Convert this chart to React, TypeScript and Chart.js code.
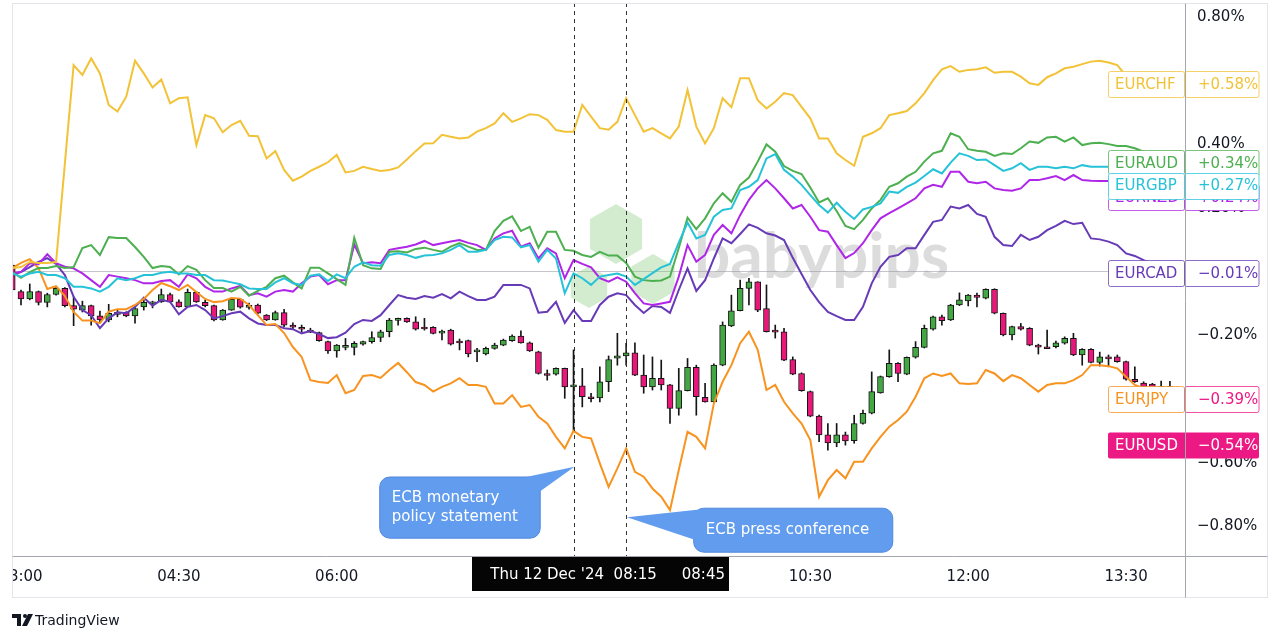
import React, { useEffect, useRef } from "react";
import { Chart, registerables } from "chart.js";

Chart.register(...registerables);

// 5-minute bars, index 0 = 03:00 (bar -1 is the partly hidden first bar)
const FIRST_BAR = -1;
const TIME_TICK_BARS = [0, 18, 36, 54, 72, 90, 108, 126];
const TIME_TICK_LABELS = ["03:00", "04:30", "06:00", "07:30", "09:00", "10:30", "12:00", "13:30"];
const PCT_TICKS = [0.8, 0.6, 0.4, 0.2, 0, -0.2, -0.4, -0.6, -0.8];

const EURCHF = [0.011, 0.014, 0.030, 0.027, 0.027, 0.030, 0.338, 0.648, 0.617, 0.669,
  0.622, 0.523, 0.502, 0.549, 0.662, 0.622, 0.578, 0.603, 0.528, 0.544,
  0.547, 0.397, 0.491, 0.481, 0.437, 0.460, 0.473, 0.426, 0.425, 0.355,
  0.378, 0.319, 0.285, 0.298, 0.316, 0.329, 0.343, 0.366, 0.311, 0.316,
  0.329, 0.322, 0.316, 0.319, 0.327, 0.352, 0.378, 0.402, 0.403, 0.429,
  0.423, 0.418, 0.421, 0.439, 0.450, 0.465, 0.497, 0.470, 0.481, 0.494,
  0.491, 0.476, 0.444, 0.439, 0.439, 0.523, 0.486, 0.450, 0.445, 0.470,
  0.544, 0.491, 0.439, 0.450, 0.434, 0.418, 0.455, 0.570, 0.455, 0.402,
  0.450, 0.544, 0.516, 0.607, 0.607, 0.538, 0.512, 0.533, 0.560, 0.554,
  0.517, 0.481, 0.418, 0.418, 0.371, 0.350, 0.332, 0.423, 0.434, 0.450,
  0.491, 0.497, 0.504, 0.528, 0.560, 0.601, 0.635, 0.645, 0.627, 0.633,
  0.635, 0.641, 0.624, 0.627, 0.627, 0.612, 0.591, 0.586, 0.610, 0.622,
  0.638, 0.643, 0.651, 0.659, 0.662, 0.656, 0.648, 0.614, 0.601, 0.592,
  0.586, 0.583, 0.580];

const EURAUD = [-0.002, -0.020, -0.002, 0.011, 0.011, 0.017, 0.011, 0.014, 0.074, 0.083,
  0.052, 0.108, 0.105, 0.105, 0.077, 0.046, 0.011, 0.017, 0.014, -0.009,
  0.017, 0.005, -0.027, -0.052, -0.052, -0.063, -0.048, -0.076, -0.061, -0.048,
  -0.021, -0.013, -0.034, -0.053, 0.012, 0.012, -0.006, -0.024, -0.042, 0.106,
  0.020, 0.010, 0.008, 0.062, 0.064, 0.060, 0.071, 0.075, 0.068, 0.062,
  0.078, 0.089, 0.078, 0.068, 0.068, 0.127, 0.159, 0.173, 0.127, 0.140,
  0.075, 0.125, 0.125, 0.068, 0.065, 0.052, 0.046, 0.062, 0.050, 0.050,
  0.027, -0.016, -0.027, -0.030, -0.028, -0.016, 0.074, 0.169, 0.133, 0.167,
  0.214, 0.246, 0.219, 0.272, 0.295, 0.345, 0.399, 0.376, 0.331, 0.316,
  0.306, 0.264, 0.217, 0.230, 0.190, 0.143, 0.133, 0.162, 0.198, 0.225,
  0.266, 0.277, 0.298, 0.313, 0.345, 0.371, 0.379, 0.434, 0.423, 0.384,
  0.379, 0.376, 0.363, 0.371, 0.369, 0.387, 0.408, 0.404, 0.421, 0.423,
  0.408, 0.421, 0.397, 0.403, 0.404, 0.400, 0.394, 0.394, 0.387, 0.376,
  0.366, 0.350, 0.341];

const EURGBP = [-0.006, -0.016, -0.006, -0.001, -0.011, -0.011, -0.021, -0.048, -0.048, -0.053,
  -0.063, -0.048, -0.021, -0.027, -0.021, -0.011, -0.011, -0.004, -0.001, -0.006,
  -0.006, -0.011, -0.011, -0.027, -0.028, -0.034, -0.040, -0.053, -0.055, -0.055,
  -0.034, -0.021, -0.037, -0.042, -0.013, -0.009, -0.030, -0.009, -0.021, 0.015,
  0.029, 0.020, 0.018, 0.052, 0.057, 0.052, 0.043, 0.050, 0.052, 0.057,
  0.068, 0.083, 0.062, 0.062, 0.068, 0.099, 0.109, 0.107, 0.076, 0.083,
  0.031, 0.068, 0.041, -0.068, -0.006, -0.021, -0.042, -0.016, -0.011, -0.006,
  -0.016, -0.042, -0.024, -0.005, 0.013, 0.024, 0.091, 0.154, 0.104, 0.115,
  0.172, 0.193, 0.198, 0.256, 0.266, 0.287, 0.355, 0.369, 0.319, 0.298,
  0.272, 0.240, 0.209, 0.185, 0.216, 0.188, 0.165, 0.195, 0.203, 0.214,
  0.251, 0.247, 0.266, 0.279, 0.300, 0.321, 0.308, 0.342, 0.371, 0.363,
  0.350, 0.352, 0.334, 0.316, 0.324, 0.340, 0.319, 0.329, 0.329, 0.324,
  0.329, 0.324, 0.334, 0.329, 0.329, 0.329, 0.325, 0.312, 0.300, 0.287,
  0.278, 0.272, 0.270];

const EURNZD = [-0.006, -0.001, 0.026, 0.023, 0.054, 0.026, 0.015, 0.010, -0.006, -0.027,
  -0.048, -0.011, -0.016, -0.021, -0.027, -0.037, -0.037, -0.030, -0.027, -0.048,
  -0.009, -0.021, -0.048, -0.063, -0.063, -0.053, -0.045, -0.074, -0.068, -0.079,
  -0.063, -0.058, -0.063, -0.037, -0.016, -0.011, -0.040, -0.027, -0.027, 0.085,
  0.026, 0.029, 0.026, 0.068, 0.073, 0.078, 0.085, 0.096, 0.083, 0.089,
  0.094, 0.099, 0.090, 0.083, 0.068, 0.104, 0.120, 0.128, 0.078, 0.089,
  0.041, 0.073, 0.057, -0.021, 0.036, 0.024, 0.013, -0.021, -0.032, -0.018,
  -0.032, -0.068, -0.100, -0.105, -0.100, -0.095, -0.016, 0.083, 0.031, 0.052,
  0.115, 0.146, 0.120, 0.177, 0.225, 0.261, 0.287, 0.261, 0.230, 0.198,
  0.209, 0.172, 0.130, 0.125, 0.083, 0.042, 0.058, 0.089, 0.130, 0.167,
  0.183, 0.198, 0.214, 0.230, 0.261, 0.272, 0.266, 0.313, 0.313, 0.282,
  0.277, 0.282, 0.261, 0.256, 0.254, 0.261, 0.287, 0.287, 0.293, 0.300,
  0.287, 0.303, 0.287, 0.285, 0.284, 0.284, 0.275, 0.265, 0.256, 0.250,
  0.243, 0.240, 0.240];

const EURCAD = [-0.011, -0.002, 0.014, 0.030, 0.042, 0.024, -0.011, -0.079, -0.121, -0.137,
  -0.178, -0.147, -0.128, -0.131, -0.111, -0.082, -0.107, -0.089, -0.095, -0.134,
  -0.111, -0.105, -0.121, -0.147, -0.140, -0.131, -0.126, -0.147, -0.163, -0.168,
  -0.168, -0.178, -0.181, -0.194, -0.187, -0.196, -0.209, -0.206, -0.192, -0.165,
  -0.152, -0.155, -0.137, -0.105, -0.074, -0.082, -0.086, -0.077, -0.082, -0.071,
  -0.084, -0.063, -0.077, -0.089, -0.089, -0.079, -0.042, -0.042, -0.042, -0.053,
  -0.129, -0.126, -0.095, -0.161, -0.121, -0.155, -0.155, -0.105, -0.079, -0.068,
  -0.074, -0.105, -0.130, -0.108, -0.111, -0.130, -0.058, 0.010, -0.061, -0.027,
  0.041, 0.104, 0.089, 0.118, 0.148, 0.137, 0.120, 0.113, 0.099, 0.043,
  -0.008, -0.058, -0.096, -0.127, -0.140, -0.152, -0.152, -0.111, -0.037, 0.015,
  0.046, 0.052, 0.073, 0.073, 0.115, 0.156, 0.162, 0.204, 0.198, 0.209,
  0.181, 0.172, 0.109, 0.083, 0.080, 0.115, 0.099, 0.109, 0.130, 0.143,
  0.159, 0.149, 0.153, 0.104, 0.101, 0.094, 0.083, 0.057, 0.049, 0.036,
  0.024, 0.005, -0.008];

const EURJPY = [0.011, 0.027, 0.039, 0.011, -0.055, -0.046, -0.077, -0.127, -0.154, -0.154,
  -0.162, -0.126, -0.118, -0.118, -0.105, -0.086, -0.058, -0.036, -0.046, -0.058,
  -0.042, -0.064, -0.086, -0.096, -0.093, -0.083, -0.085, -0.105, -0.137, -0.168,
  -0.165, -0.193, -0.237, -0.268, -0.341, -0.347, -0.350, -0.325, -0.382, -0.372,
  -0.328, -0.325, -0.334, -0.309, -0.287, -0.316, -0.347, -0.356, -0.377, -0.362,
  -0.351, -0.335, -0.356, -0.356, -0.362, -0.414, -0.414, -0.388, -0.425, -0.419,
  -0.456, -0.477, -0.519, -0.555, -0.500, -0.519, -0.524, -0.602, -0.676, -0.618,
  -0.555, -0.629, -0.644, -0.681, -0.707, -0.749, -0.623, -0.503, -0.519, -0.555,
  -0.414, -0.346, -0.294, -0.225, -0.189, -0.246, -0.372, -0.356, -0.409, -0.445,
  -0.477, -0.529, -0.707, -0.655, -0.623, -0.649, -0.597, -0.597, -0.555, -0.519,
  -0.487, -0.466, -0.440, -0.393, -0.335, -0.320, -0.328, -0.320, -0.351, -0.353,
  -0.351, -0.309, -0.320, -0.344, -0.325, -0.335, -0.356, -0.377, -0.356, -0.351,
  -0.351, -0.341, -0.325, -0.294, -0.294, -0.297, -0.304, -0.330, -0.356, -0.367,
  -0.372, -0.378, -0.385];

// EURUSD candles
const USD_OPEN = [0.020, -0.063, -0.086, -0.063, -0.097, -0.072, -0.053, -0.107, -0.121, -0.107,
  -0.139, -0.152, -0.134, -0.128, -0.139, -0.111, -0.097, -0.095, -0.072, -0.095,
  -0.111, -0.065, -0.097, -0.107, -0.152, -0.121, -0.087, -0.112, -0.105, -0.137,
  -0.152, -0.129, -0.168, -0.175, -0.184, -0.192, -0.220, -0.249, -0.236, -0.238,
  -0.228, -0.220, -0.207, -0.189, -0.152, -0.147, -0.158, -0.174, -0.175, -0.193,
  -0.184, -0.218, -0.217, -0.252, -0.259, -0.241, -0.231, -0.217, -0.203, -0.224,
  -0.252, -0.320, -0.322, -0.304, -0.362, -0.359, -0.393, -0.397, -0.346, -0.272,
  -0.265, -0.255, -0.325, -0.362, -0.335, -0.356, -0.430, -0.374, -0.301, -0.395,
  -0.409, -0.294, -0.171, -0.123, -0.053, -0.032, -0.116, -0.184, -0.189, -0.276,
  -0.320, -0.377, -0.454, -0.513, -0.538, -0.513, -0.531, -0.477, -0.445, -0.381,
  -0.330, -0.288, -0.322, -0.269, -0.238, -0.181, -0.142, -0.152, -0.105, -0.092,
  -0.074, -0.084, -0.056, -0.131, -0.199, -0.173, -0.178, -0.231, -0.236, -0.236,
  -0.225, -0.210, -0.262, -0.244, -0.285, -0.268, -0.268, -0.283, -0.338, -0.350,
  -0.353, -0.360, -0.360];
const USD_HIGH = [0.030, -0.058, -0.039, -0.061, -0.068, -0.049, -0.050, -0.079, -0.093, -0.105,
  -0.124, -0.103, -0.121, -0.126, -0.111, -0.089, -0.093, -0.055, -0.068, -0.089,
  -0.055, -0.063, -0.089, -0.105, -0.119, -0.084, -0.085, -0.099, -0.102, -0.135,
  -0.124, -0.119, -0.161, -0.168, -0.178, -0.190, -0.218, -0.229, -0.210, -0.220,
  -0.218, -0.189, -0.184, -0.147, -0.146, -0.145, -0.142, -0.147, -0.173, -0.184,
  -0.181, -0.212, -0.215, -0.241, -0.237, -0.225, -0.212, -0.199, -0.186, -0.221,
  -0.250, -0.309, -0.302, -0.303, -0.246, -0.304, -0.382, -0.299, -0.265, -0.194,
  -0.225, -0.224, -0.262, -0.268, -0.278, -0.354, -0.304, -0.273, -0.294, -0.351,
  -0.290, -0.158, -0.074, -0.027, -0.021, -0.032, -0.042, -0.168, -0.178, -0.268,
  -0.318, -0.375, -0.451, -0.477, -0.477, -0.504, -0.451, -0.435, -0.315, -0.328,
  -0.246, -0.286, -0.268, -0.220, -0.168, -0.140, -0.137, -0.103, -0.067, -0.072,
  -0.068, -0.054, -0.054, -0.130, -0.171, -0.163, -0.176, -0.228, -0.184, -0.218,
  -0.205, -0.194, -0.242, -0.242, -0.253, -0.262, -0.262, -0.281, -0.299, -0.346,
  -0.351, -0.344, -0.345];
const USD_LOW = [-0.058, -0.105, -0.089, -0.105, -0.111, -0.074, -0.111, -0.170, -0.127, -0.168,
  -0.159, -0.158, -0.142, -0.142, -0.162, -0.121, -0.114, -0.097, -0.096, -0.112,
  -0.111, -0.097, -0.111, -0.155, -0.153, -0.122, -0.115, -0.118, -0.133, -0.154,
  -0.153, -0.173, -0.181, -0.189, -0.192, -0.219, -0.257, -0.269, -0.246, -0.262,
  -0.231, -0.225, -0.220, -0.205, -0.168, -0.160, -0.184, -0.184, -0.196, -0.215,
  -0.231, -0.246, -0.268, -0.283, -0.262, -0.244, -0.233, -0.219, -0.225, -0.251,
  -0.322, -0.341, -0.325, -0.398, -0.498, -0.425, -0.409, -0.409, -0.377, -0.294,
  -0.294, -0.327, -0.382, -0.372, -0.372, -0.477, -0.451, -0.375, -0.451, -0.410,
  -0.411, -0.296, -0.173, -0.124, -0.105, -0.126, -0.190, -0.209, -0.280, -0.324,
  -0.376, -0.456, -0.534, -0.561, -0.550, -0.545, -0.539, -0.479, -0.447, -0.382,
  -0.332, -0.346, -0.324, -0.272, -0.240, -0.184, -0.168, -0.154, -0.107, -0.108,
  -0.111, -0.086, -0.133, -0.202, -0.215, -0.184, -0.233, -0.259, -0.240, -0.240,
  -0.228, -0.264, -0.294, -0.287, -0.297, -0.299, -0.285, -0.341, -0.348, -0.364,
  -0.366, -0.366, -0.366];
const USD_CLOSE = [-0.058, -0.086, -0.063, -0.097, -0.072, -0.053, -0.107, -0.118, -0.107, -0.139,
  -0.152, -0.131, -0.128, -0.139, -0.116, -0.097, -0.095, -0.072, -0.095, -0.111,
  -0.065, -0.095, -0.107, -0.152, -0.121, -0.087, -0.112, -0.106, -0.131, -0.152,
  -0.129, -0.168, -0.175, -0.181, -0.189, -0.217, -0.249, -0.231, -0.232, -0.225,
  -0.220, -0.207, -0.189, -0.152, -0.147, -0.158, -0.181, -0.177, -0.194, -0.187,
  -0.228, -0.221, -0.259, -0.246, -0.241, -0.231, -0.215, -0.203, -0.224, -0.249,
  -0.320, -0.325, -0.304, -0.362, -0.356, -0.393, -0.397, -0.346, -0.276, -0.265,
  -0.255, -0.325, -0.362, -0.335, -0.356, -0.430, -0.374, -0.301, -0.393, -0.409,
  -0.294, -0.168, -0.123, -0.053, -0.032, -0.121, -0.189, -0.189, -0.278, -0.322,
  -0.374, -0.454, -0.513, -0.538, -0.513, -0.532, -0.477, -0.445, -0.377, -0.330,
  -0.288, -0.320, -0.269, -0.238, -0.178, -0.142, -0.154, -0.105, -0.089, -0.074,
  -0.081, -0.056, -0.131, -0.199, -0.173, -0.181, -0.231, -0.236, -0.239, -0.224,
  -0.210, -0.262, -0.244, -0.285, -0.268, -0.273, -0.283, -0.338, -0.346, -0.362,
  -0.364, -0.364, -0.364];

// Last-value tags (value shown, vertical position of the tag in %)
const TAG_NAMES = ["EURCHF", "EURNZD", "EURAUD", "EURGBP", "EURCAD", "EURJPY", "EURUSD"];
const TAG_VALUES = [0.58, 0.24, 0.34, 0.27, -0.01, -0.39, -0.54];
const TAG_POS = [0.588, 0.234, 0.341, 0.27, -0.005, -0.4, -0.545];

const EVENT_BARS = [63, 69];
const EVENT_LABELS = ["Thu 12 Dec '24  08:15", "Thu 12 Dec '24  08:45"];

const CALLOUTS = [
  { lines: ["ECB monetary", "policy statement"], box: [40.9, 59.2, -0.645, -0.837], tip: [63.1, -0.613], base: [[57.6, -0.645], [59.2, -0.69]] },
  { lines: ["ECB press conference"], box: [76.7, 99.4, -0.743, -0.881], tip: [69.1, -0.771], base: [[77.6, -0.746], [76.9, -0.843]] },
];

const COLORS: Record<string, string> = {
  EURCHF: "#f2c237",
  EURAUD: "#4caf50",
  EURGBP: "#26c3d8",
  EURNZD: "#b026e8",
  EURCAD: "#673ab7",
  EURJPY: "#f7931e",
  EURUSD: "#ec1884",
};
const UP = "#43a843";
const DOWN = "#e8187a";
const FONT = "DejaVu Sans";

const fmtPct = (v: number) => {
  if (Math.abs(v) < 1e-9) return "0.00%";
  return (v < 0 ? "\u2212" : "") + Math.abs(v).toFixed(2) + "%";
};
const fmtTag = (v: number) => (v < 0 ? "\u2212" : "+") + Math.abs(v).toFixed(2) + "%";

function rr(ctx: any, x: number, y: number, w: number, h: number, r: number) {
  ctx.beginPath();
  ctx.moveTo(x + r, y);
  ctx.arcTo(x + w, y, x + w, y + h, r);
  ctx.arcTo(x + w, y + h, x, y + h, r);
  ctx.arcTo(x, y + h, x, y, r);
  ctx.arcTo(x, y, x + w, y, r);
  ctx.closePath();
}

function hex(ctx: any, cx: number, cy: number, r: number) {
  ctx.beginPath();
  for (let k = 0; k < 6; k++) {
    const a = (Math.PI / 180) * (-90 + 60 * k);
    const px = cx + r * Math.cos(a);
    const py = cy + r * Math.sin(a);
    if (k === 0) ctx.moveTo(px, py);
    else ctx.lineTo(px, py);
  }
  ctx.closePath();
  ctx.fill();
}

const decor = {
  id: "decor",
  beforeDatasetsDraw(chart: any) {
    const ctx = chart.ctx;
    const ca = chart.chartArea;
    ctx.save();
    ctx.beginPath();
    ctx.rect(ca.left, ca.top, ca.right - ca.left, ca.bottom - ca.top);
    ctx.clip();
    ctx.fillStyle = "rgba(140,205,128,0.38)";
    hex(ctx, 616, 234, 30);
    hex(ctx, 653, 279, 25);
    hex(ctx, 589, 287, 21);
    ctx.fillStyle = "rgba(150,150,150,0.33)";
    ctx.font = "bold 64px Lato";
    ctx.textBaseline = "alphabetic";
    ctx.textAlign = "left";
    ctx.fillText("babypips", 694, 278);
    ctx.restore();
  },
  afterDraw(chart: any) {
    const ctx = chart.ctx;
    const ca = chart.chartArea;
    const xs = chart.scales.x;
    const ys = chart.scales.y;
    const W = chart.width;

    // event dashed lines
    ctx.save();
    ctx.strokeStyle = "#333";
    ctx.lineWidth = 1;
    ctx.setLineDash([4, 4]);
    EVENT_BARS.forEach((b) => {
      const x = Math.round(xs.getPixelForValue(b)) + 0.5;
      ctx.beginPath();
      ctx.moveTo(x, ca.top);
      ctx.lineTo(x, ca.bottom);
      ctx.stroke();
    });
    ctx.restore();

    // callouts
    ctx.save();
    CALLOUTS.forEach((c) => {
      const x0 = xs.getPixelForValue(c.box[0]);
      const x1 = xs.getPixelForValue(c.box[1]);
      const y0 = ys.getPixelForValue(c.box[2]);
      const y1 = ys.getPixelForValue(c.box[3]);
      ctx.fillStyle = "#619cef";
      ctx.strokeStyle = "#4f88dc";
      ctx.lineWidth = 1;
      rr(ctx, x0, y0, x1 - x0, y1 - y0, 10);
      ctx.fill();
      ctx.stroke();
      ctx.beginPath();
      ctx.moveTo(xs.getPixelForValue(c.tip[0]), ys.getPixelForValue(c.tip[1]));
      ctx.lineTo(xs.getPixelForValue(c.base[0][0]), ys.getPixelForValue(c.base[0][1]));
      ctx.lineTo(xs.getPixelForValue(c.base[1][0]), ys.getPixelForValue(c.base[1][1]));
      ctx.closePath();
      ctx.fill();
      ctx.fillStyle = "#ffffff";
      ctx.font = `15px ${FONT}`;
      ctx.textAlign = "left";
      ctx.textBaseline = "middle";
      const cy = (y0 + y1) / 2;
      const n = c.lines.length;
      c.lines.forEach((t, k) => {
        ctx.fillText(t, x0 + 12, cy + (k - (n - 1) / 2) * 19);
      });
    });
    ctx.restore();

    // last value tags
    ctx.save();
    const nameX = ca.right - 77;
    const valX = ca.right;
    const th = 26;
    ctx.font = `15px ${FONT}`;
    ctx.textBaseline = "middle";
    ctx.textAlign = "left";
    TAG_NAMES.forEach((name, k) => {
      const yc = ys.getPixelForValue(TAG_POS[k]);
      const top = Math.round(yc - th / 2) + 0.5;
      const col = COLORS[name];
      if (name === "EURUSD") {
        ctx.fillStyle = col;
        rr(ctx, nameX, top, 151, th, 2);
        ctx.fill();
        ctx.fillStyle = "#fff";
        ctx.fillText(name, nameX + 7, yc + 1);
        ctx.fillText(fmtTag(TAG_VALUES[k]), valX + 13, yc + 1);
        return;
      }
      const valCol = name === "EURJPY" ? COLORS.EURUSD : col;
      ctx.fillStyle = "#fff";
      ctx.fillRect(nameX, top, 151, th);
      ctx.lineWidth = 1;
      ctx.globalAlpha = 0.75;
      ctx.strokeStyle = col;
      rr(ctx, nameX + 0.5, top, 76, th, 2);
      ctx.stroke();
      ctx.strokeStyle = valCol;
      rr(ctx, valX, top, 74, th, 2);
      ctx.stroke();
      ctx.globalAlpha = 1;
      ctx.fillStyle = col;
      ctx.fillText(name, nameX + 7, yc + 1);
      ctx.fillStyle = valCol;
      ctx.fillText(fmtTag(TAG_VALUES[k]), valX + 13, yc + 1);
    });
    ctx.restore();

    // frame and axis lines
    ctx.save();
    ctx.lineWidth = 1;
    ctx.strokeStyle = "#e3e5ea";
    ctx.strokeRect(12.5, 3.5, W - 25, 594);
    ctx.strokeStyle = "#a3a6ae";
    ctx.beginPath();
    ctx.moveTo(12.5, Math.round(ca.bottom) + 0.5);
    ctx.lineTo(W - 12.5, Math.round(ca.bottom) + 0.5);
    ctx.moveTo(Math.round(ca.right) + 0.5, 3.5);
    ctx.lineTo(Math.round(ca.right) + 0.5, 597.5);
    ctx.stroke();
    ctx.restore();

    // time axis labels (clipped to the time-axis strip)
    ctx.save();
    ctx.beginPath();
    ctx.rect(ca.left, ca.bottom + 1, ca.right - ca.left, 40);
    ctx.clip();
    ctx.fillStyle = "#131722";
    ctx.font = `15px ${FONT}`;
    ctx.textAlign = "center";
    ctx.textBaseline = "middle";
    TIME_TICK_BARS.forEach((b, k) => {
      ctx.fillText(TIME_TICK_LABELS[k], xs.getPixelForValue(b), ca.bottom + 21);
    });
    // crosshair date labels (the later one sits behind)
    for (let k = EVENT_BARS.length - 1; k >= 0; k--) {
      const cx = xs.getPixelForValue(EVENT_BARS[k]);
      const late = k > 0;
      const bx = Math.round(cx - 102) + (late ? 1 : 0);
      ctx.fillStyle = "#050505";
      ctx.fillRect(bx, ca.bottom + 1, late ? 204 : 203, 34);
      ctx.fillStyle = "#ffffff";
      if (late) {
        ctx.textAlign = "right";
        ctx.fillText(EVENT_LABELS[k], bx + 200, ca.bottom + 19);
        ctx.textAlign = "center";
      } else {
        ctx.fillText(EVENT_LABELS[k], cx, ca.bottom + 19);
      }
    }
    ctx.restore();

    // TradingView logo
    ctx.save();
    ctx.fillStyle = "#131722";
    ctx.fillRect(12, 614, 9, 4);
    ctx.fillRect(17, 614, 4, 12);
    ctx.beginPath();
    ctx.arc(25, 616, 2, 0, Math.PI * 2);
    ctx.fill();
    ctx.beginPath();
    ctx.moveTo(28, 614);
    ctx.lineTo(33, 614);
    ctx.lineTo(27, 626);
    ctx.lineTo(22, 626);
    ctx.closePath();
    ctx.fill();
    ctx.font = `14px ${FONT}`;
    ctx.textAlign = "left";
    ctx.textBaseline = "middle";
    ctx.fillText("TradingView", 35, 621);
    ctx.restore();
  },
};

export default function App() {
  const ref = useRef<HTMLCanvasElement | null>(null);

  useEffect(() => {
    const canvas = ref.current;
    if (!canvas) return;
    const toXY = (arr: number[]) => arr.map((v, k) => ({ x: FIRST_BAR + k, y: v }));
    const bodies = USD_OPEN.map((o, k) => ({ x: FIRST_BAR + k, y: [o, USD_CLOSE[k]] }));
    const wicks = USD_LOW.map((l, k) => ({ x: FIRST_BAR + k, y: [l, USD_HIGH[k]] }));
    const bodyColors = USD_OPEN.map((o, k) => (USD_CLOSE[k] >= o ? UP : DOWN));

    const line = (label: string, data: number[], order: number) => ({
      type: "line" as const,
      label,
      data: toXY(data),
      borderColor: COLORS[label],
      borderWidth: 2,
      pointRadius: 0,
      tension: 0,
      fill: false,
      order,
      clip: 0,
    });

    const chart = new Chart(canvas, {
      type: "line",
      data: {
        datasets: [
          line("EURCHF", EURCHF, 1),
          line("EURGBP", EURGBP, 2),
          line("EURAUD", EURAUD, 3),
          line("EURNZD", EURNZD, 4),
          line("EURJPY", EURJPY, 5),
          line("EURCAD", EURCAD, 6),
          {
            type: "bar",
            label: "EURUSD",
            data: bodies as any,
            backgroundColor: bodyColors,
            borderColor: "#151515",
            borderWidth: 1,
            borderSkipped: false,
            barThickness: 6,
            minBarLength: 2,
            grouped: false,
            order: 10,
            clip: 0,
          } as any,
          {
            type: "bar",
            label: "EURUSD wick",
            data: wicks as any,
            backgroundColor: "#151515",
            borderWidth: 0,
            barThickness: 1,
            grouped: false,
            order: 11,
            clip: 0,
          } as any,
        ],
      },
      options: {
        responsive: false,
        animation: false,
        events: [],
        layout: { padding: { left: 13, top: 3, right: 0, bottom: 87 } },
        plugins: { legend: { display: false }, tooltip: { enabled: false } },
        scales: {
          x: { type: "linear", display: false, min: -0.912, max: 132.72, offset: false },
          y: {
            type: "linear",
            position: "right",
            min: -0.893,
            max: 0.843,
            afterBuildTicks: (s: any) => {
              s.ticks = PCT_TICKS.map((v) => ({ value: v }));
            },
            afterFit: (s: any) => {
              s.width = 95;
              s.paddingTop = 0;
              s.paddingBottom = 0;
            },
            ticks: {
              autoSkip: false,
              padding: 12,
              color: "#131722",
              font: { family: FONT, size: 15 },
              callback: (v: any) => fmtPct(Number(v)),
            },
            grid: {
              drawTicks: false,
              lineWidth: 1,
              color: (c: any) => (c.tick && Math.abs(c.tick.value) < 1e-9 ? "#c4c6cc" : "rgba(0,0,0,0)"),
            },
            border: { display: false },
          },
        },
      } as any,
      plugins: [decor],
    });
    return () => chart.destroy();
  }, []);

  return (
    <div style={{ position: "absolute", left: 0, top: 0, width: 1280, height: 643, background: "#fff" }}>
      <canvas ref={ref} width={1280} height={643} style={{ display: "block" }} />
    </div>
  );
}
